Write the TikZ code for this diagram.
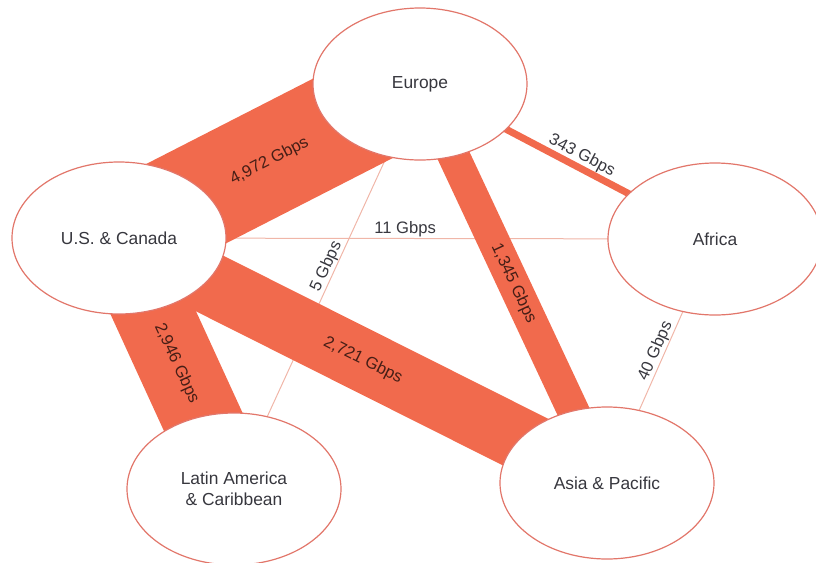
\documentclass[tikz,border=0pt]{standalone}
\usepackage{fontspec}
\setmainfont{Liberation Sans}
\usetikzlibrary{shapes.geometric}
\usetikzlibrary{backgrounds}

\definecolor{bandred}{RGB}{241,106,77}
\definecolor{ringred}{RGB}{226,118,106}
\definecolor{thinred}{RGB}{240,182,168}
\definecolor{labelgray}{RGB}{55,55,62}
\definecolor{flowdark}{RGB}{70,30,22}

\tikzset{
    region/.style={ellipse, draw=ringred, line width=0.6pt, fill=white,
        minimum width=107pt, minimum height=76pt, inner sep=0pt, align=center,
        font=\fontsize{8.7}{10.5}\selectfont, text=labelgray},
    band/.style={draw=bandred, line width=#1},
    hair/.style={draw=thinred, line width=0.5pt},
    flow/.style={sloped, font=\fontsize{8.3}{10}\selectfont, text=flowdark, inner sep=1pt},
    thinflow/.style={flow, above, inner sep=0.3pt, text=labelgray},
}

\begin{document}
\begin{tikzpicture}[x=0.5pt, y=-0.5pt]
        \useasboundingbox (0,0) rectangle (816,563);
        \node[region] (eu) at (420,84) {Europe};
        \node[region] (us) at (119,238) {U.S. \& Canada};
        \node[region] (af) at (715,239) {Africa};
        \node[region] (la) at (234,489) {Latin America\\\& Caribbean};
        \node[region] (ap) at (607,483) {Asia \& Pacific};
        \begin{scope}[on background layer]
        \draw[hair] (us.center) -- (af.center) node[thinflow, pos=0.48] {11 Gbps};
        \draw[hair] (eu.center) -- (la.center) node[thinflow, pos=0.46] {5 Gbps};
        \draw[hair] (af.center) -- (ap.center) node[thinflow, pos=0.475] {40 Gbps};
        \draw[band=3.5pt] (eu.center) -- (af.center) node[thinflow, pos=0.53] {343 Gbps};
        \draw[band=16pt] (eu.center) -- (ap.center) node[flow, midway] {1,345 Gbps};
        \draw[band=31pt] (us.center) -- (ap.center) node[flow, midway] {2,721 Gbps};
        \draw[band=39.5pt] (us.center) -- (la.center) node[flow, midway] {2,946 Gbps};
        \draw[band=53.5pt] (us.center) -- (eu.center) node[flow, midway] {4,972 Gbps};
        \end{scope}
\end{tikzpicture}
\end{document}
